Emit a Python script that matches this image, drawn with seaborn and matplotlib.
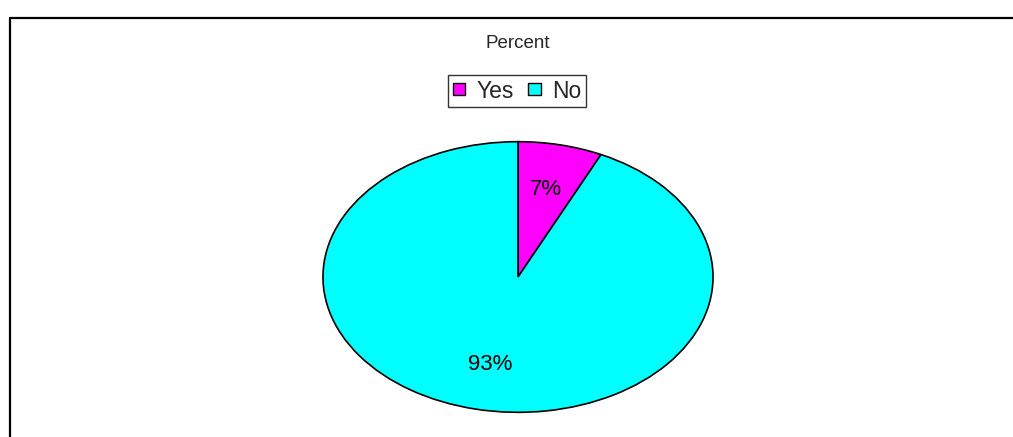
import matplotlib
import matplotlib.pyplot as plt
import seaborn as sns
from matplotlib.lines import Line2D
from matplotlib.patches import Patch

matplotlib.use('agg')

labels = ["Yes", "No"]
percents = [7, 93]
colors = ["#FF00FF", "#00FFFF"]

sns.set_theme(style="white")
plt.rcParams['font.family'] = ['Liberation Sans', 'DejaVu Sans']

fig = plt.figure(figsize=(10.13, 4.37), dpi=100)
W, H = 1013, 437

# pie axes sized to the (stretched) ellipse box
ax = fig.add_axes([322 / W, (H - 413) / H, 392 / W, 272 / H])
wedges, texts, autotexts = ax.pie(
    percents, colors=colors, startangle=90, counterclock=False,
    autopct=lambda p: f"{p:.0f}%", pctdistance=0.66,
    wedgeprops=dict(edgecolor="black", linewidth=1.2),
    textprops=dict(fontsize=16, color="black"),
)
ax.set_aspect('auto')
ax.set_xlim(-1.005, 1.005)
ax.set_ylim(-1.005, 1.005)
for w in wedges:
    w.set_clip_on(False)

fig.text(518 / W, 1 - 44 / H, "Percent", ha="center", va="center", fontsize=13.5)

handles = [Patch(facecolor=c, edgecolor="black", linewidth=1) for c in colors]
leg = fig.legend(handles, labels, loc="center", bbox_to_anchor=(517 / W, 1 - 91 / H),
                 ncol=2, fontsize=16.5, frameon=True, fancybox=False,
                 handlelength=0.55, handleheight=0.45, handletextpad=0.5,
                 columnspacing=0.6, borderpad=0.2, borderaxespad=0)
leg.get_frame().set_edgecolor("black")
leg.get_frame().set_linewidth(1)

# outer chart frame (top and left edges visible)
fig.add_artist(Line2D([10 / W, 1.0], [1 - 18 / H, 1 - 18 / H], color="black", lw=1.6))
fig.add_artist(Line2D([10 / W, 10 / W], [1 - 18 / H, 0.0], color="black", lw=1.6))

plt.savefig("out.png", dpi=100)
